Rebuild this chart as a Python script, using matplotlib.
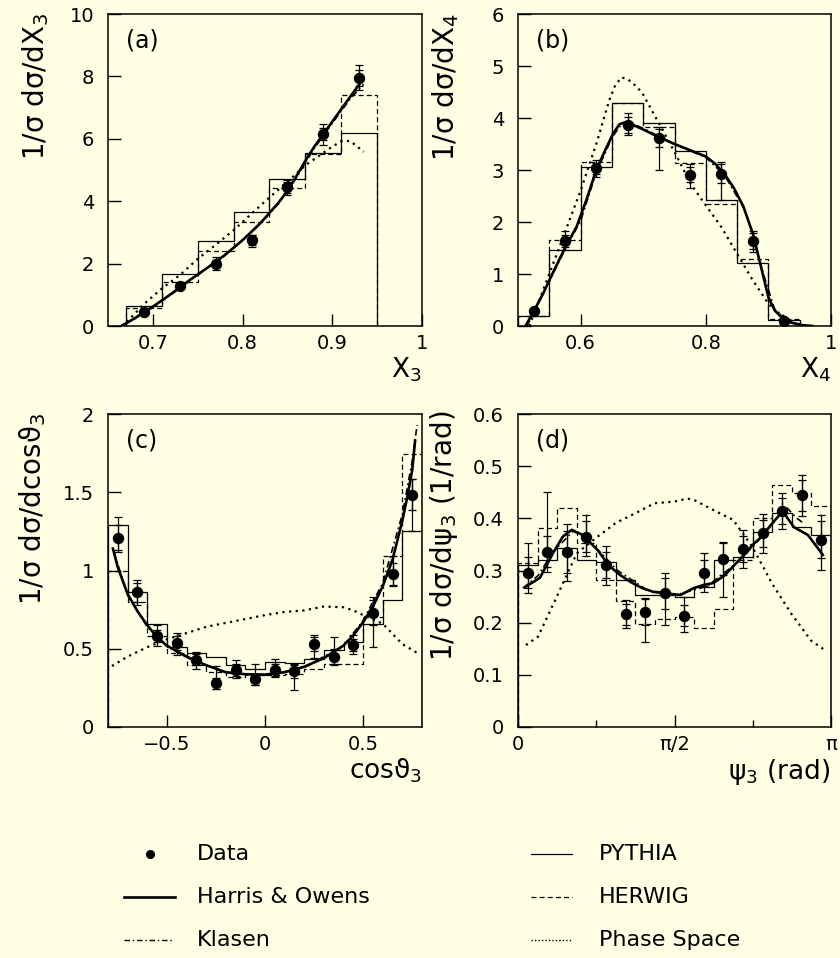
import numpy as np
import matplotlib
matplotlib.use('Agg')
import matplotlib.pyplot as plt

BG = '#FFFFE3'
plt.rcParams['font.family'] = ['DejaVu Sans']
plt.rcParams['mathtext.fontset'] = 'dejavusans'

# ---------------- Panel (a): X3 ----------------
a_edges = [0.67, 0.71, 0.75, 0.79, 0.83, 0.87, 0.91, 0.95]
a_pythia = [0.63, 1.68, 2.71, 3.64, 4.70, 5.54, 6.17]
a_herwig = [0.58, 1.41, 2.41, 3.34, 4.43, 5.50, 7.40]
a_x = [0.69, 0.73, 0.77, 0.81, 0.85, 0.89, 0.93]
a_y = [0.45, 1.27, 2.00, 2.76, 4.44, 6.15, 7.95]
a_tot_lo = [0.10, 0.10, 0.20, 0.22, 0.25, 0.35, 0.38]
a_tot_hi = [0.10, 0.10, 0.20, 0.15, 0.25, 0.33, 0.40]
a_stat = [0.06, 0.06, 0.12, 0.15, 0.18, 0.20, 0.25]
a_ho_x = [0.665, 0.68, 0.69, 0.70, 0.72, 0.74, 0.76, 0.78, 0.80, 0.82, 0.84, 0.85,
          0.86, 0.87, 0.88, 0.89, 0.90, 0.91, 0.92, 0.934]
a_ho_y = [0.0, 0.25, 0.45, 0.62, 1.02, 1.45, 1.85, 2.27, 2.75, 3.30, 3.95, 4.33,
          4.80, 5.30, 5.75, 6.15, 6.55, 6.95, 7.35, 7.90]
a_kl_x = [0.665, 0.68, 0.70, 0.72, 0.74, 0.76, 0.78, 0.80, 0.82, 0.84, 0.86, 0.88,
          0.90, 0.92, 0.935]
a_kl_y = [0.0, 0.24, 0.60, 1.00, 1.43, 1.84, 2.26, 2.74, 3.28, 3.92, 4.75, 5.70,
          6.50, 7.28, 7.75]
a_ps_x = [0.665, 0.675, 0.69, 0.71, 0.73, 0.75, 0.77, 0.79, 0.81, 0.83, 0.85, 0.87,
          0.89, 0.90, 0.91, 0.92, 0.93, 0.935]
a_ps_y = [0.0, 0.25, 0.70, 1.20, 1.63, 2.15, 2.60, 3.07, 3.60, 4.12, 4.62, 5.15,
          5.55, 5.75, 5.92, 5.93, 5.70, 5.58]

# ---------------- Panel (b): X4 ----------------
b_edges = [0.50, 0.55, 0.60, 0.65, 0.70, 0.75, 0.80, 0.85, 0.90, 0.95]
b_pythia = [0.19, 1.47, 3.06, 4.29, 3.90, 3.36, 2.43, 1.22, 0.12]
b_herwig = [0.20, 1.66, 3.15, 4.28, 3.82, 3.14, 2.34, 1.28, 0.14]
b_x = [0.525, 0.575, 0.625, 0.675, 0.725, 0.775, 0.825, 0.875, 0.925]
b_y = [0.29, 1.63, 3.03, 3.87, 3.62, 2.91, 2.93, 1.63, 0.10]
b_tot_lo = [0.05, 0.17, 0.17, 0.20, 0.62, 0.25, 0.50, 0.20, 0.04]
b_tot_hi = [0.05, 0.20, 0.17, 0.23, 0.20, 0.20, 0.22, 0.20, 0.04]
b_stat = [0.04, 0.12, 0.10, 0.15, 0.17, 0.15, 0.18, 0.15, 0.03]
b_ho_x = [0.512, 0.525, 0.54, 0.55, 0.575, 0.594, 0.61, 0.625, 0.64, 0.652, 0.662,
          0.672, 0.685, 0.70, 0.725, 0.75, 0.775, 0.80, 0.815, 0.83, 0.845, 0.86,
          0.875, 0.89, 0.90, 0.91, 0.92, 0.935, 0.95, 0.97]
b_ho_y = [0.0, 0.28, 0.62, 0.88, 1.50, 1.92, 2.45, 3.00, 3.40, 3.70, 3.88,
          3.92, 3.86, 3.78, 3.63, 3.50, 3.38, 3.26, 3.12, 2.92, 2.65, 2.30,
          1.78, 1.05, 0.55, 0.30, 0.18, 0.07, 0.02, 0.0]
b_kl_x = [0.514, 0.55, 0.575, 0.60, 0.625, 0.65, 0.665, 0.68, 0.70, 0.75, 0.80,
          0.83, 0.86, 0.875, 0.89, 0.91, 0.94, 0.97]
b_kl_y = [0.0, 0.86, 1.47, 2.02, 2.95, 3.62, 3.88, 3.91, 3.80, 3.50, 3.24,
          2.90, 2.28, 1.80, 1.08, 0.32, 0.06, 0.0]
b_ps_x = [0.518, 0.55, 0.578, 0.60, 0.625, 0.646, 0.655, 0.665, 0.675, 0.69,
          0.70, 0.725, 0.75, 0.775, 0.80, 0.825, 0.85, 0.875, 0.90, 0.925, 0.95]
b_ps_y = [0.0, 1.00, 1.90, 2.60, 3.50, 4.35, 4.62, 4.78, 4.75, 4.60,
          4.45, 3.90, 3.35, 2.75, 2.32, 1.90, 1.39, 0.88, 0.43, 0.14, 0.0]

# ---------------- Panel (c): cos theta3 ----------------
c_edges = [-0.8, -0.7, -0.6, -0.5, -0.4, -0.3, -0.2, -0.1, 0.0,
           0.1, 0.2, 0.3, 0.4, 0.5, 0.6, 0.7, 0.8]
c_pythia = [1.29, 0.86, 0.655, 0.51, 0.475, 0.45, 0.395, 0.37,
            0.415, 0.41, 0.435, 0.49, 0.54, 0.655, 0.81, 1.25]
c_herwig = [1.00, 0.80, 0.58, 0.47, 0.395, 0.35, 0.32, 0.33,
            0.33, 0.34, 0.37, 0.40, 0.405, 0.70, 1.09, 1.745]
c_x = [-0.75, -0.65, -0.55, -0.45, -0.35, -0.25, -0.15, -0.05,
       0.05, 0.15, 0.25, 0.35, 0.45, 0.55, 0.65, 0.75]
c_y = [1.21, 0.86, 0.58, 0.535, 0.43, 0.28, 0.365, 0.305,
       0.365, 0.355, 0.53, 0.45, 0.525, 0.73, 0.98, 1.485]
c_tot_hi = [0.13, 0.08, 0.07, 0.065, 0.05, 0.11, 0.06, 0.10,
            0.07, 0.05, 0.06, 0.125, 0.06, 0.10, 0.11, 0.10]
c_tot_lo = [0.09, 0.08, 0.06, 0.075, 0.06, 0.035, 0.055, 0.035,
            0.045, 0.12, 0.09, 0.055, 0.06, 0.22, 0.08, 0.235]
c_stat = [0.08, 0.06, 0.04, 0.045, 0.035, 0.035, 0.04, 0.035,
          0.04, 0.04, 0.045, 0.05, 0.04, 0.08, 0.07, 0.10]
c_ho_x = [-0.775, -0.75, -0.70, -0.65, -0.60, -0.55, -0.50, -0.40, -0.30, -0.20,
          -0.10, 0.0, 0.10, 0.20, 0.30, 0.40, 0.45, 0.50, 0.55, 0.60, 0.65,
          0.70, 0.725, 0.75, 0.765]
c_ho_y = [1.14, 1.02, 0.85, 0.74, 0.65, 0.575, 0.52, 0.45, 0.395, 0.35,
          0.337, 0.335, 0.35, 0.385, 0.44, 0.52, 0.585, 0.67, 0.77, 0.90, 1.07,
          1.32, 1.47, 1.64, 1.83]
c_kl_x = [-0.77, -0.70, -0.60, -0.50, -0.40, -0.20, 0.0, 0.20, 0.40, 0.50,
          0.60, 0.70, 0.75, 0.775]
c_kl_y = [1.12, 0.84, 0.64, 0.515, 0.445, 0.345, 0.33, 0.38, 0.52, 0.68,
          0.92, 1.36, 1.70, 1.93]
c_ps_x = [-0.78, -0.70, -0.60, -0.50, -0.40, -0.30, -0.20, -0.10, 0.0, 0.10,
          0.20, 0.30, 0.40, 0.45, 0.50, 0.60, 0.70, 0.78]
c_ps_y = [0.39, 0.45, 0.51, 0.56, 0.60, 0.64, 0.665, 0.69, 0.715, 0.735,
          0.745, 0.77, 0.765, 0.745, 0.715, 0.66, 0.53, 0.47]

# ---------------- Panel (d): psi3 ----------------
d_nbins = 16
d_pythia = [0.31, 0.32, 0.343, 0.32, 0.316, 0.282, 0.253, 0.253,
            0.249, 0.268, 0.32, 0.326, 0.374, 0.41, 0.383, 0.368]
d_herwig = [0.315, 0.381, 0.42, 0.352, 0.281, 0.242, 0.198, 0.207,
            0.21, 0.19, 0.227, 0.321, 0.40, 0.464, 0.448, 0.424]
d_y = [0.296, 0.336, 0.336, 0.365, 0.31, 0.216, 0.22, 0.256,
       0.213, 0.296, 0.322, 0.341, 0.371, 0.414, 0.444, 0.359]
d_tot_hi = [0.056, 0.115, 0.054, 0.042, 0.037, 0.027, 0.027, 0.04,
            0.037, 0.038, 0.033, 0.036, 0.037, 0.035, 0.04, 0.048]
d_tot_lo = [0.04, 0.038, 0.057, 0.038, 0.037, 0.027, 0.057, 0.06,
            0.03, 0.038, 0.072, 0.036, 0.037, 0.035, 0.04, 0.058]
d_stat = [0.03, 0.03, 0.04, 0.03, 0.025, 0.02, 0.025, 0.03,
          0.02, 0.025, 0.03, 0.025, 0.025, 0.025, 0.03, 0.035]
d_ho_x = [0.07, 0.22, 0.35, 0.45, 0.54, 0.65, 0.80, 0.91, 1.02, 1.13, 1.25, 1.36,
          1.48, 1.63, 1.76, 1.86, 1.96, 2.07, 2.17, 2.27, 2.36, 2.44, 2.55,
          2.64, 2.67, 2.77, 2.91, 3.06]
d_ho_y = [0.268, 0.286, 0.333, 0.365, 0.378, 0.368, 0.339, 0.31, 0.292, 0.278,
          0.266, 0.259, 0.256, 0.253, 0.266, 0.272, 0.276, 0.29, 0.31, 0.33, 0.35,
          0.364, 0.39, 0.41, 0.41, 0.383, 0.368, 0.33]
d_kl_x = [0.05, 0.20, 0.35, 0.55, 0.65, 0.80, 1.00, 1.30, 1.60, 1.90, 2.20,
          2.45, 2.62, 2.70, 2.80, 2.87]
d_kl_y = [0.266, 0.29, 0.335, 0.375, 0.368, 0.34, 0.30, 0.262, 0.254, 0.27,
          0.315, 0.365, 0.405, 0.42, 0.40, 0.39]
d_ps_x = [0.08, 0.20, 0.39, 0.59, 0.78, 0.98, 1.18, 1.37, 1.57, 1.70, 1.77,
          1.96, 2.16, 2.35, 2.55, 2.74, 2.94, 3.09]
d_ps_y = [0.157, 0.173, 0.25, 0.333, 0.362, 0.391, 0.41, 0.429, 0.432, 0.438,
          0.435, 0.416, 0.397, 0.346, 0.275, 0.218, 0.166, 0.146]

LW_HIST = 0.9
DASH = (0, (4, 2.5))
DOT = (0, (1, 2.0))
DASHDOT = (0, (4, 2, 1, 2))
FS = 14

fig = plt.figure(figsize=(8.4, 9.58), dpi=100, facecolor=BG)

W, H = 840.0, 958.0
def box(l, t, r, b):
    return [l / W, (H - b) / H, (r - l) / W, (b - t) / H]

ax_a = fig.add_axes(box(108, 14, 422, 326))
ax_b = fig.add_axes(box(518, 14, 831, 326))
ax_c = fig.add_axes(box(108, 414, 422, 727))
ax_d = fig.add_axes(box(518, 414, 831, 727))

def style(ax):
    ax.set_facecolor(BG)
    for s in ax.spines.values():
        s.set_linewidth(1.1)
    ax.tick_params(direction='in', length=9, width=1.0, labelsize=FS,
                   top=False, right=False)
    ax.tick_params(axis='y', pad=10)
    ax.tick_params(axis='x', pad=6)
    ax.tick_params(which='minor', direction='in', length=5, width=1.0)

def draw_data(ax, x, y, lo, hi, st):
    ax.errorbar(x, y, yerr=[lo, hi], fmt='none', ecolor='k', elinewidth=0.9,
                capsize=3.2, capthick=0.9, zorder=5)
    ax.errorbar(x, y, yerr=[st, st], fmt='none', ecolor='k', elinewidth=0.9,
                capsize=3.2, capthick=0.9, zorder=5)
    ax.plot(x, y, 'o', color='k', ms=7.2, zorder=6)

def draw_models(ax, edges, py, hw, hox, hoy, klx, kly, psx, psy):
    ax.stairs(py, edges, baseline=0, color='k', lw=LW_HIST, zorder=3)
    ax.stairs(hw, edges, baseline=0, color='k', lw=LW_HIST, ls=DASH, zorder=3)
    ax.plot(psx, psy, color='k', lw=1.6, ls=DOT, zorder=3)
    ax.plot(klx, kly, color='k', lw=1.2, ls=DASHDOT, zorder=4)
    ax.plot(hox, hoy, color='k', lw=1.9, zorder=4)

# (a)
style(ax_a)
draw_models(ax_a, a_edges, a_pythia, a_herwig, a_ho_x, a_ho_y, a_kl_x, a_kl_y, a_ps_x, a_ps_y)
draw_data(ax_a, a_x, a_y, a_tot_lo, a_tot_hi, a_stat)
ax_a.set_xlim(0.65, 1.0)
ax_a.set_ylim(0, 10)
ax_a.set_xticks([0.7, 0.8, 0.9, 1.0], ['0.7', '0.8', '0.9', '1'])
ax_a.set_yticks([0, 2, 4, 6, 8, 10], ['0', '2', '4', '6', '8', '10'])

# (b)
style(ax_b)
draw_models(ax_b, b_edges, b_pythia, b_herwig, b_ho_x, b_ho_y, b_kl_x, b_kl_y, b_ps_x, b_ps_y)
draw_data(ax_b, b_x, b_y, b_tot_lo, b_tot_hi, b_stat)
ax_b.set_xlim(0.5, 1.0)
ax_b.set_ylim(0, 6)
ax_b.set_xticks([0.6, 0.8, 1.0], ['0.6', '0.8', '1'])
ax_b.set_yticks([0, 1, 2, 3, 4, 5, 6], ['0', '1', '2', '3', '4', '5', '6'])

# (c)
style(ax_c)
draw_models(ax_c, c_edges, c_pythia, c_herwig, c_ho_x, c_ho_y, c_kl_x, c_kl_y, c_ps_x, c_ps_y)
draw_data(ax_c, c_x, c_y, c_tot_lo, c_tot_hi, c_stat)
ax_c.set_xlim(-0.8, 0.8)
ax_c.set_ylim(0, 2)
ax_c.set_xticks([-0.5, 0, 0.5], ['\u22120.5', '0', '0.5'])
ax_c.set_yticks([0, 0.5, 1, 1.5, 2], ['0', '0.5', '1', '1.5', '2'])

# (d)
style(ax_d)
d_edges = np.linspace(0, np.pi, d_nbins + 1)
d_x = 0.5 * (d_edges[:-1] + d_edges[1:])
draw_models(ax_d, d_edges, d_pythia, d_herwig, d_ho_x, d_ho_y, d_kl_x, d_kl_y, d_ps_x, d_ps_y)
draw_data(ax_d, d_x, d_y, d_tot_lo, d_tot_hi, d_stat)
ax_d.set_xlim(0, np.pi)
ax_d.set_ylim(0, 0.6)
ax_d.set_xticks([0, np.pi / 2, np.pi], ['0', '\u03c0/2', '\u03c0'])
ax_d.set_xticks([np.pi / 4, 3 * np.pi / 4], minor=True)
ax_d.set_yticks([0, 0.1, 0.2, 0.3, 0.4, 0.5, 0.6],
                ['0', '0.1', '0.2', '0.3', '0.4', '0.5', '0.6'])

# panel letters
for ax, lab in [(ax_a, '(a)'), (ax_b, '(b)'), (ax_c, '(c)'), (ax_d, '(d)')]:
    ax.text(0.057, 0.955, lab, transform=ax.transAxes, ha='left', va='top', fontsize=17)

# axis labels
YL = 20
ax_a.text(-0.23, 1.005, '1/\u03c3 d\u03c3/dX$_3$', transform=ax_a.transAxes,
          rotation=90, ha='center', va='top', fontsize=YL)
ax_b.text(-0.23, 1.005, '1/\u03c3 d\u03c3/dX$_4$', transform=ax_b.transAxes,
          rotation=90, ha='center', va='top', fontsize=YL)
ax_c.text(-0.24, 1.005, '1/\u03c3 d\u03c3/dcos\u03d1$_3$', transform=ax_c.transAxes,
          rotation=90, ha='center', va='top', fontsize=YL)
ax_d.text(-0.235, 1.01, '1/\u03c3 d\u03c3/d\u03c8$_3$ (1/rad)', transform=ax_d.transAxes,
          rotation=90, ha='center', va='top', fontsize=YL)

XL = 19
ax_a.text(1.0, -0.095, 'X$_3$', transform=ax_a.transAxes, ha='right', va='top', fontsize=XL)
ax_b.text(1.0, -0.095, 'X$_4$', transform=ax_b.transAxes, ha='right', va='top', fontsize=XL)
ax_c.text(1.0, -0.095, 'cos\u03d1$_3$', transform=ax_c.transAxes, ha='right', va='top', fontsize=XL)
ax_d.text(1.0, -0.095, '\u03c8$_3$ (rad)', transform=ax_d.transAxes, ha='right', va='top', fontsize=XL)

# legend (drawn in pixel space)
lg = fig.add_axes([0, 0, 1, 1], facecolor='none')
lg.set_xlim(0, W)
lg.set_ylim(H, 0)
lg.axis('off')
LFS = 16
lg.plot([150], [854], 'o', color='k', ms=5.5)
lg.text(197, 854, 'Data', va='center', ha='left', fontsize=LFS)
lg.plot([124, 175], [897, 897], color='k', lw=1.9)
lg.text(197, 897, 'Harris & Owens', va='center', ha='left', fontsize=LFS)
lg.plot([124, 172], [940, 940], color='k', lw=1.0, ls=DASHDOT)
lg.text(197, 940, 'Klasen', va='center', ha='left', fontsize=LFS)
lg.plot([531, 572], [854, 854], color='k', lw=LW_HIST)
lg.text(599, 854, 'PYTHIA', va='center', ha='left', fontsize=LFS)
lg.plot([531, 572], [897, 897], color='k', lw=LW_HIST, ls=DASH)
lg.text(599, 897, 'HERWIG', va='center', ha='left', fontsize=LFS)
lg.plot([531, 572], [940, 940], color='k', lw=1.0, ls=(0, (1, 1.5)))
lg.text(599, 940, 'Phase Space', va='center', ha='left', fontsize=LFS)

fig.savefig('out.png', dpi=100, facecolor=BG)
